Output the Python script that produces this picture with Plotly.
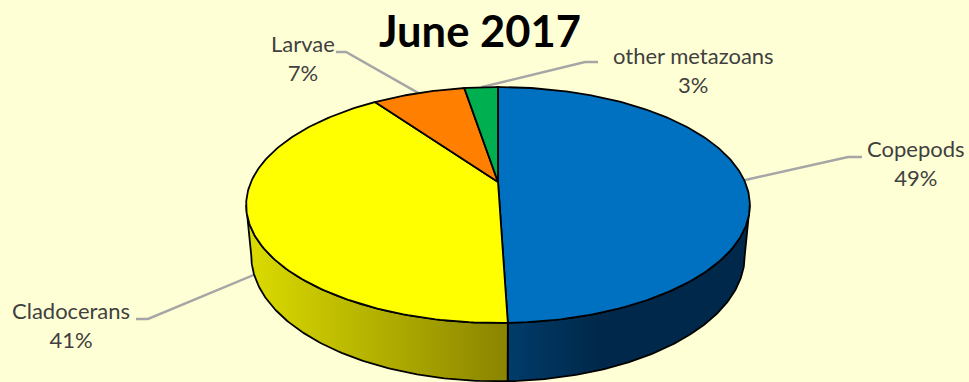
import numpy as np
import plotly.graph_objects as go

# Data
categories = ["Copepods", "Cladocerans", "Larvae", "other metazoans"]
values = [49.49, 40.71, 7.2, 2.6]
slice_colors = ["#0070C0", "#FFFF00", "#FF7F00", "#00B050"]
title_text = "June 2017"

# Drawing setup (pixel-like plot coordinates, perspective of the disc)
W, H = 969, 382
BG = "#FFFFD5"
CX = 498
K = 0.195            # perspective strength
TOP = dict(a=247.0, b=113.5, y0=182.0)
BOT = dict(a=242.0, b=121.0, y0=231.0)
SILHOUETTE = np.degrees(np.arcsin(K))


def project(theta_deg, disc):
    t = np.radians(theta_deg)
    u, v = np.sin(t), np.cos(t)
    w = 1 + K * v
    return CX + disc["a"] * u / w, disc["y0"] - disc["b"] * v / w


fractions = np.array(values) / sum(values)
edges = np.concatenate([[0], np.cumsum(fractions)]) * 360

fig = go.Figure()

# Leader lines (beneath the pie)
leaders = {
    "Copepods": [(862, 157), (848, 157)],
    "Cladocerans": [(136, 319), (148, 319), (280, 264)],
    "Larvae": [(336, 52), (346, 52)],
    "other metazoans": [(598, 62), (585, 62)],
}
for i, name in enumerate(categories):
    pts = list(leaders[name])
    if name != "Cladocerans":
        mid = (edges[i] + edges[i + 1]) / 2
        mx, my = project(mid, TOP)
        pts.append((float(mx), float(my)))
    fig.add_trace(go.Scatter(x=[p[0] for p in pts], y=[p[1] for p in pts], mode="lines",
                             line=dict(color="#A6A6A6", width=2.5), hoverinfo="skip"))

# Side walls: only the slices that reach the front of the disc
front_right = 90 + SILHOUETTE
front_left = 270 - SILHOUETTE
wall_ranges = [(edges[1], front_right), (front_left, edges[1])]
for (i, (a0, a1)) in zip([0, 1], wall_ranges):
    th = np.linspace(a0, a1, 120)
    xt, yt = project(th, TOP)
    xb, yb = project(th[::-1], BOT)
    xs = np.concatenate([xt, xb, xt[:1]])
    ys = np.concatenate([yt, yb, yt[:1]])
    if i == 0:
        start, stop = float(xs.max()), float(xs.min())
        cs = [[0, "#00284A"], [0.62, "#00284A"], [1, "#003C6A"]]
    else:
        start, stop = float(xs.min()), float(xs.max())
        cs = [[0, "#DCDC00"], [1, "#8A8400"]]
    fig.add_trace(go.Scatter(
        x=xs, y=ys, mode="lines", fill="toself",
        line=dict(color="#000000", width=1.8), hoverinfo="skip",
        fillgradient=dict(type="horizontal", start=start, stop=stop, colorscale=cs),
    ))

# Top face slices
for i, name in enumerate(categories):
    th = np.linspace(edges[i], edges[i + 1], max(int(fractions[i] * 400), 12))
    xr, yr = project(th, TOP)
    xs = np.concatenate([[CX], xr, [CX]])
    ys = np.concatenate([[TOP["y0"]], yr, [TOP["y0"]]])
    fig.add_trace(go.Scatter(
        x=xs, y=ys, mode="lines", fill="toself", fillcolor=slice_colors[i],
        line=dict(color="#000000", width=1.8), name=name, hoverinfo="skip",
    ))

# Labels
label_pos = {
    "Copepods": (916, 163),
    "Cladocerans": (71, 325),
    "Larvae": (303, 58),
    "other metazoans": (693, 70),
}
annotations = []
for name, val in zip(categories, values):
    lx, ly = label_pos[name]
    annotations.append(dict(
        x=lx, y=ly, xref="x", yref="y", showarrow=False, xanchor="center", yanchor="middle",
        text=f"{name}<br>{round(val)}%", align="center",
        font=dict(family="Lato", size=22, color="#404040"),
    ))
annotations.append(dict(
    x=480, y=30, xref="x", yref="y", showarrow=False, xanchor="center", yanchor="middle",
    text=f"<b>{title_text}</b>", font=dict(family="Lato", size=43.5, color="#000000"),
))

fig.update_layout(
    width=W, height=H, margin=dict(l=0, r=0, t=0, b=0),
    paper_bgcolor=BG, plot_bgcolor=BG, showlegend=False,
    annotations=annotations,
    xaxis=dict(range=[0, W], visible=False, fixedrange=True),
    yaxis=dict(range=[H, 0], visible=False, fixedrange=True),
)
fig.write_html("out.html", config={"displayModeBar": False},
               post_script="document.body.style.margin='0';")
